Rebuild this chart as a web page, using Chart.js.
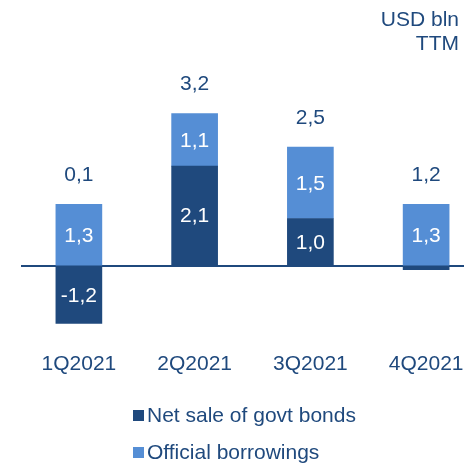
<!DOCTYPE html>
<html>
<head>
<meta charset="utf-8">
<script src="https://cdn.jsdelivr.net/npm/chart.js@4.4.1/dist/chart.umd.min.js"></script>
<style>
  body { margin: 0; overflow: hidden; background: #fff; font-family: "Liberation Sans", Arial, sans-serif; color: #1F497D; }
  #wrap { position: relative; width: 464px; height: 465px; overflow: hidden; }
  #unit { position: absolute; right: 5px; top: 7px; text-align: right; font-size: 21px; line-height: 24px; }
  #legend { position: absolute; left: 133px; top: 402px; font-size: 21px; }
  .item { display: flex; align-items: center; height: 26px; margin-bottom: 11px; white-space: nowrap; }
  .box { width: 11px; height: 11px; margin-right: 3px; }
</style>
</head>
<body>
<div id="wrap">
  <canvas id="chart" width="485" height="465"></canvas>
  <div id="unit">USD bln<br>TTM</div>
  <div id="legend"></div>
</div>
<script>
// Datos
const categories = ["1Q2021", "2Q2021", "3Q2021", "4Q2021"];
const netSaleBonds = [-1.2, 2.1, 1.0, -0.07];
const officialBorrowings = [1.3, 1.1, 1.5, 1.3];
const totals = [0.1, 3.2, 2.5, 1.2];
const seriesNames = ["Net sale of govt bonds", "Official borrowings"];

const darkBlue = "#1F497D";
const lightBlue = "#558ED5";
const fontFamily = "'Liberation Sans', Arial, sans-serif";

const format = (n) => n.toFixed(1).replace(".", ",");

// Etiquetas dentro de las barras y totales arriba
const labelsPlugin = {
  id: "barLabels",
  afterDatasetsDraw(chart) {
    const ctx = chart.ctx;
    ctx.save();
    ctx.font = "21px " + fontFamily;
    ctx.textAlign = "center";
    ctx.textBaseline = "middle";
    chart.data.datasets.forEach((ds, i) => {
      chart.getDatasetMeta(i).data.forEach((bar, j) => {
        const v = ds.data[j];
        if (Math.abs(v) < 0.5) return;
        ctx.fillStyle = "#fff";
        ctx.fillText(format(v), bar.x, (bar.y + bar.base) / 2 + 1);
      });
    });
    const yScale = chart.scales.y;
    categories.forEach((c, j) => {
      let top = 0;
      chart.data.datasets.forEach((ds) => {
        if (ds.data[j] > 0) top += ds.data[j];
      });
      const x = chart.getDatasetMeta(0).data[j].x;
      ctx.fillStyle = darkBlue;
      ctx.fillText(format(totals[j]), x, yScale.getPixelForValue(top) - 29);
    });
    ctx.restore();
  },
};

Chart.defaults.font.family = fontFamily;

const chart = new Chart(document.getElementById("chart").getContext("2d"), {
  type: "bar",
  data: {
    labels: categories,
    datasets: [
      { label: seriesNames[0], data: netSaleBonds, backgroundColor: darkBlue },
      { label: seriesNames[1], data: officialBorrowings, backgroundColor: lightBlue },
    ],
  },
  options: {
    responsive: false,
    animation: false,
    devicePixelRatio: 1,
    layout: { padding: { top: 75.5, left: 21, right: 1, bottom: 79.3 } },
    datasets: { bar: { barThickness: 46 } },
    plugins: { legend: { display: false }, tooltip: { enabled: false } },
    scales: {
      x: {
        stacked: true,
        grid: { display: false, drawTicks: false },
        border: { display: false },
        ticks: { color: darkBlue, font: { size: 21 }, padding: 9 },
      },
      y: {
        stacked: true,
        min: -1.6,
        max: 4,
        ticks: { display: false, stepSize: 1 },
        border: { display: false },
        grid: {
          drawTicks: false,
          lineWidth: 2,
          color: (ctx) => (ctx.tick && ctx.tick.value === 0 ? darkBlue : "transparent"),
        },
      },
    },
  },
  plugins: [labelsPlugin],
});

// Leyenda en HTML (vertical, alineada a la izquierda)
document.getElementById("legend").innerHTML = chart.data.datasets
  .map((ds) => `<div class="item"><span class="box" style="background:${ds.backgroundColor}"></span>${ds.label}</div>`)
  .join("");
</script>
</body>
</html>
